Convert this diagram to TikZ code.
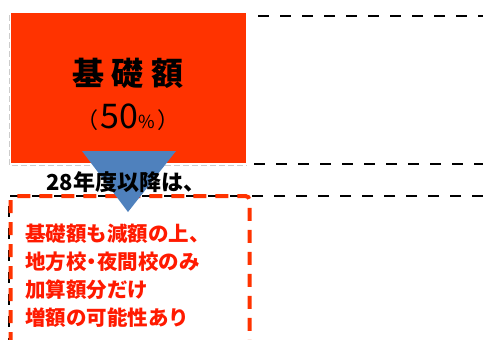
\documentclass[tikz,border=0pt]{standalone}
\usepackage{fontspec}
\setmainfont{Noto Sans CJK JP}
\definecolor{boxred}{HTML}{FF3300}
\definecolor{txtred}{HTML}{FF1A00}
\definecolor{triblue}{HTML}{4F81BD}
\tikzset{
  blackdash/.style={draw=black, line width=2.6pt, dash pattern=on 11pt off 11pt},
  graydash/.style={draw=black!20, line width=0.8pt, dash pattern=on 6pt off 3pt},
  reddash/.style={draw=boxred, line width=4pt, dash pattern=on 13pt off 9pt, rounded corners=4pt},
  redtext/.style={anchor=west, text=txtred, font=\fontsize{20.5}{22}\selectfont\bfseries, inner sep=0pt},
}
\begin{document}
\begin{tikzpicture}[x=1pt,y=-1pt]
\useasboundingbox (0,0) rectangle (483,340);
% gray dashed frame around the base box
\draw[graydash] (9,15) -- (9,165) -- (247,165);
% orange box
\node[fill=boxred, minimum width=235pt, minimum height=150pt, inner sep=0pt, anchor=north west] (base) at (11,13) {};
\node[font=\fontsize{32}{34}\selectfont\bfseries] (title) at (128,73) {基\hspace{8pt}礎\hspace{8pt}額};
\node[inner sep=0pt] (pct) at (128,117) {\fontsize{22}{24}\selectfont （\hspace{2pt}\fontsize{34}{36}\selectfont 50\fontsize{18}{20}\selectfont \%\hspace{2pt}\fontsize{22}{24}\selectfont ）};
% black dashed lines
\coordinate (l1a) at (258,16); \coordinate (l1b) at (483,16);
\coordinate (l2a) at (254,164); \coordinate (l2b) at (483,164);
\coordinate (l3a) at (9,196); \coordinate (l3b) at (483,196);
\coordinate (l3c) at (9,340);
\draw[blackdash] (l1a) -- (l1b);
\draw[blackdash] (l2a) -- (l2b);
\draw[blackdash] (l3b) -- (l3a) -- (l3c);
% red dashed box
\draw[reddash] (10.5,345) -- (10.5,196) -- (249.5,196) -- (249.5,345);
% blue triangle
\coordinate (t1) at (82,151); \coordinate (t2) at (176,151); \coordinate (t3) at (128,212);
\fill[triblue] (t1) -- (t2) -- (t3) -- cycle;
% header text
\node[font=\fontsize{22}{24}\selectfont\bfseries, inner sep=0pt] (hdr) at (126,182) {28年度以降は、};
% red text
\node[redtext] (r1) at (25,234) {基礎額も減額の上、};
\node[redtext] (r2) at (25,262) {地方校\hspace{-5pt}・\hspace{-5pt}夜間校のみ};
\node[redtext] (r3) at (25,290) {加算額分だけ};
\node[redtext] (r4) at (25,318) {増額の可能性あり};
\end{tikzpicture}
\end{document}
